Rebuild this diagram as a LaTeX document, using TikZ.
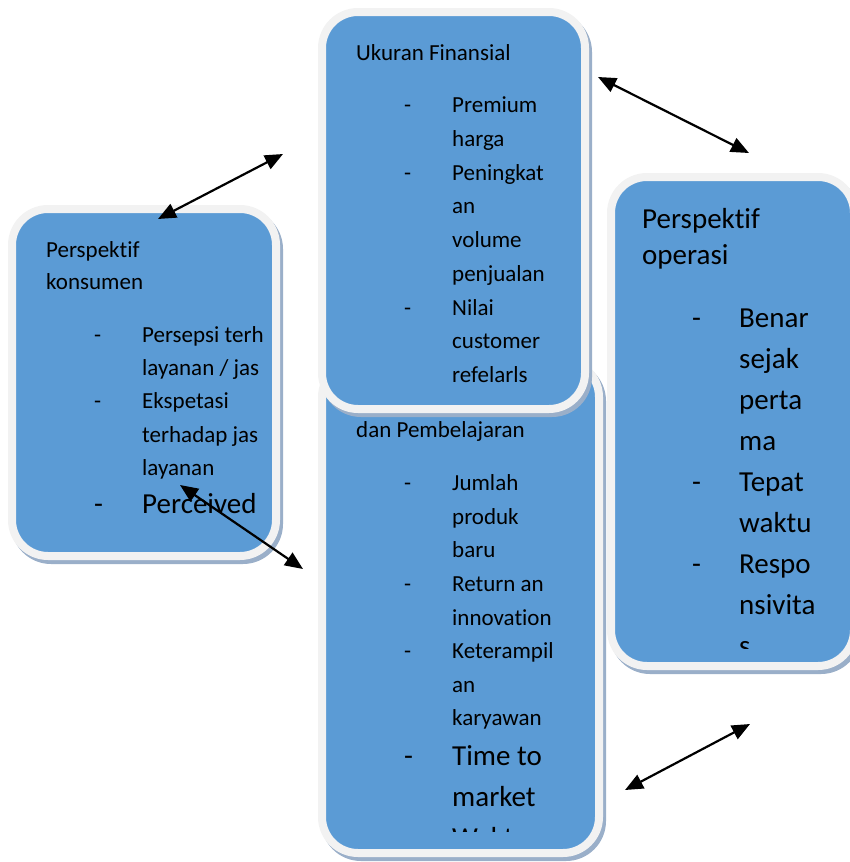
\documentclass[tikz,border=0pt]{standalone}
\usepackage{fontspec}
\setmainfont{Carlito}[Ligatures=NoCommon]
\usetikzlibrary{arrows.meta}
\definecolor{panelblue}{HTML}{5B9BD5}
\definecolor{panelrim}{HTML}{F2F2F2}
\definecolor{panelshade}{HTML}{9AAFC9}
\begin{document}
\begin{tikzpicture}[x=1pt,y=-1pt,
  panel/.style={fill=panelblue,draw=panelrim,line width=8pt,rounded corners=36pt},
  shade/.style={fill=panelshade,draw=panelshade,line width=8pt,rounded corners=36pt},
  txt/.style={inner sep=0pt,anchor=base west,font=\fontsize{23}{28}\selectfont},
  bigtxt/.style={inner sep=0pt,anchor=base west,font=\fontsize{29}{35}\selectfont},
  link/.style={line width=2.2pt,{Triangle[length=18pt,width=15pt]}-{Triangle[length=18pt,width=15pt]}}]
\useasboundingbox (0,0) rectangle (850,862);

% ---- Perspektif konsumen ----
\draw[shade] (15,213) rectangle (279,560);
\draw[panel] (12,209) rectangle (276,556);
\begin{scope}
  \clip (0,0) rectangle (262,862);
  \node[txt] (kon-t1) at (46,257) {Perspektif};
  \node[txt] (kon-t2) at (46,289) {konsumen};
  \node[txt] (kon-d1) at (94,342) {-};
  \node[txt] (kon-1a) at (142,342) {Persepsi terh};
  \node[txt] (kon-1b) at (142,375) {layanan / jas};
  \node[txt] (kon-d2) at (94,408) {-};
  \node[txt] (kon-2a) at (142,408) {Ekspetasi};
  \node[txt] (kon-2b) at (142,442) {terhadap jas};
  \node[txt] (kon-2c) at (142,475) {layanan};
  \node[bigtxt] (kon-d3) at (94,513) {-};
  \node[bigtxt] (kon-3a) at (142,513) {Perceived};
\end{scope}

% ---- Pertumbuhan dan Pembelajaran ----
\draw[shade] (325,365) rectangle (602,857);
\draw[panel] (322,361) rectangle (599,853);
\begin{scope}
  \clip (0,0) rectangle (850,831);
  \node[txt] (bel-t) at (356,437) {dan Pembelajaran};
  \node[txt] (bel-d1) at (404,490) {-};
  \node[txt] (bel-1a) at (452,490) {Jumlah};
  \node[txt] (bel-1b) at (452,524) {produk};
  \node[txt] (bel-1c) at (452,557) {baru};
  \node[txt] (bel-d2) at (404,591) {-};
  \node[txt] (bel-2a) at (452,591) {Return an};
  \node[txt] (bel-2b) at (452,625) {innovation};
  \node[txt] (bel-d3) at (404,658) {-};
  \node[txt] (bel-3a) at (452,658) {Keterampil};
  \node[txt] (bel-3b) at (452,692) {an};
  \node[txt] (bel-3c) at (452,725) {karyawan};
  \node[bigtxt] (bel-d4) at (404,765) {-};
  \node[bigtxt] (bel-4a) at (452,765) {Time to};
  \node[bigtxt] (bel-4b) at (452,806) {market};
  \node[bigtxt] (bel-5a) at (452,847) {Waktu};
\end{scope}

% ---- Ukuran Finansial ----
\draw[shade] (325,16) rectangle (588,413);
\draw[panel] (322,12) rectangle (585,409);
\node[txt] (fin-t) at (356,60) {Ukuran Finansial};
\node[txt] (fin-d1) at (404,112) {-};
\node[txt] (fin-1a) at (452,112) {Premium};
\node[txt] (fin-1b) at (452,146) {harga};
\node[txt] (fin-d2) at (404,180) {-};
\node[txt] (fin-2a) at (452,180) {Peningkat};
\node[txt] (fin-2b) at (452,213) {an};
\node[txt] (fin-2c) at (452,247) {volume};
\node[txt] (fin-2d) at (452,281) {penjualan};
\node[txt] (fin-d3) at (404,315) {-};
\node[txt] (fin-3a) at (452,315) {Nilai};
\node[txt] (fin-3b) at (452,348) {customer};
\node[txt] (fin-3c) at (452,382) {refelarls};

% ---- Perspektif operasi ----
\draw[shade] (614,181) rectangle (857,670);
\draw[panel] (611,177) rectangle (854,666);
\begin{scope}
  \clip (0,0) rectangle (850,648);
  \node[bigtxt] (ops-t1) at (642,228) {Perspektif};
  \node[bigtxt] (ops-t2) at (642,264) {operasi};
  \node[bigtxt] (ops-d1) at (692,327) {-};
  \node[bigtxt] (ops-1a) at (739,327) {Benar};
  \node[bigtxt] (ops-1b) at (739,368) {sejak};
  \node[bigtxt] (ops-1c) at (739,409) {perta};
  \node[bigtxt] (ops-1d) at (739,450) {ma};
  \node[bigtxt] (ops-d2) at (692,491) {-};
  \node[bigtxt] (ops-2a) at (739,491) {Tepat};
  \node[bigtxt] (ops-2b) at (739,532) {waktu};
  \node[bigtxt] (ops-d3) at (692,573) {-};
  \node[bigtxt] (ops-3a) at (739,573) {Respo};
  \node[bigtxt] (ops-3b) at (739,614) {nsivita};
  \node[bigtxt] (ops-3c) at (739,655) {s};
\end{scope}

% ---- two-way links ----
\coordinate (l1a) at (158,219);
\coordinate (l1b) at (283,154);
\coordinate (l2a) at (598,77);
\coordinate (l2b) at (749,153);
\coordinate (l3a) at (625,790);
\coordinate (l3b) at (750,724);
\coordinate (l4a) at (180,485);
\coordinate (l4b) at (303,569);
\draw[link] (l1a) -- (l1b);
\draw[link] (l2a) -- (l2b);
\draw[link] (l3a) -- (l3b);
\draw[link] (l4a) -- (l4b);
\end{tikzpicture}
\end{document}
